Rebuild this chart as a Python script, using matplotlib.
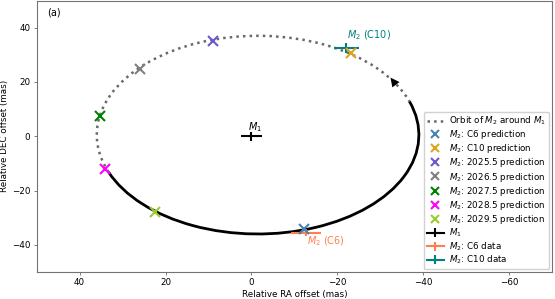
import matplotlib
matplotlib.use("Agg")
import matplotlib.pyplot as plt
from matplotlib.patches import Arc

# orbit of M2 around M1 (ellipse, mas)
orbit_center = (-1.5, 0.5)
orbit_width = 75.0
orbit_height = 73.0
solid_from, solid_to = 160.7, 338.5     # observed part of the orbit (deg)
dotted_from, dotted_to = -21.5, 160.7   # rest of the orbit (deg)

# predicted positions of M2
pred_names = ["C6", "C10", "2025.5", "2026.5", "2027.5", "2028.5", "2029.5"]
pred_ra = [-12.3, -23.1, 9.0, 25.9, 35.2, 34.2, 22.5]
pred_dec = [-34.1, 30.7, 35.0, 24.6, 7.45, -12.1, -28.0]
pred_colors = ["steelblue", "goldenrod", "slateblue", "gray", "green", "magenta", "yellowgreen"]

# measured positions
data_names = ["$M_1$", "$M_2$: C6 data", "$M_2$: C10 data"]
data_ra = [0.0, -12.7, -22.1]
data_dec = [0.0, -35.5, 32.4]
data_ra_err = [2.4, 3.4, 2.9]
data_dec_err = [1.6, 1.2, 1.8]
data_colors = ["black", "coral", "teal"]

plt.rcParams["font.size"] = 6.3

fig = plt.figure(figsize=(5.55, 2.99), dpi=100)
ax = fig.add_axes([0.0661, 0.0903, 0.9285, 0.908])

ax.add_patch(Arc(orbit_center, orbit_width, orbit_height, theta1=solid_from, theta2=solid_to,
                 color="black", lw=2.0, zorder=2))
ax.add_patch(Arc(orbit_center, orbit_width, orbit_height, theta1=dotted_from, theta2=dotted_to,
                 color="dimgray", lw=1.8, ls=":", zorder=2))
ax.plot([], [], ls=":", color="dimgray", lw=1.8, label="Orbit of $M_2$ around $M_1$")

# direction of motion
ax.annotate("", xy=(-32.4, 21.6), xytext=(-34.6, 17.0),
            arrowprops=dict(arrowstyle="-|>,head_length=0.8,head_width=0.4", color="black",
                            shrinkA=0, shrinkB=0, mutation_scale=8, lw=0.01))

for name, x, y, c in zip(pred_names, pred_ra, pred_dec, pred_colors):
    ax.plot(x, y, "x", color=c, ms=7, mew=1.5, zorder=5, label=f"$M_2$: {name} prediction")

for name, x, y, xe, ye, c in zip(data_names, data_ra, data_dec, data_ra_err, data_dec_err, data_colors):
    ax.errorbar(x, y, xerr=xe, yerr=ye, color=c, elinewidth=1.5, lw=1.5, capsize=0,
                zorder=4, label=name)

ax.text(-0.9, 3.4, "$M_1$", ha="center", va="center", fontsize=7)
ax.text(-13.0, -38.6, "$M_2$ (C6)", color="coral", ha="left", va="center", fontsize=7)
ax.text(-22.2, 37.1, "$M_2$ (C10)", color="teal", ha="left", va="center", fontsize=7)
ax.text(0.02, 0.975, "(a)", transform=ax.transAxes, ha="left", va="top", fontsize=7)

ax.set_xlim(50, -70)
ax.set_ylim(-50, 50)
ax.set_xticks([40, 20, 0, -20, -40, -60])
ax.set_yticks([40, 20, 0, -20, -40])
ax.set_xlabel("Relative RA offset (mas)", labelpad=2)
ax.set_ylabel("Relative DEC offset (mas)", labelpad=2)
ax.tick_params(length=2.5, width=0.6, pad=2, color="0.4")
for s in ax.spines.values():
    s.set_color("0.45")
    s.set_linewidth(0.8)

ax.legend(loc="lower right", fontsize=6.3, handlelength=2.0, labelspacing=0.12,
          markerscale=0.75, handletextpad=0.6, borderpad=0.35, borderaxespad=0.3,
          framealpha=0.9)

fig.savefig("out.png", dpi=100)
